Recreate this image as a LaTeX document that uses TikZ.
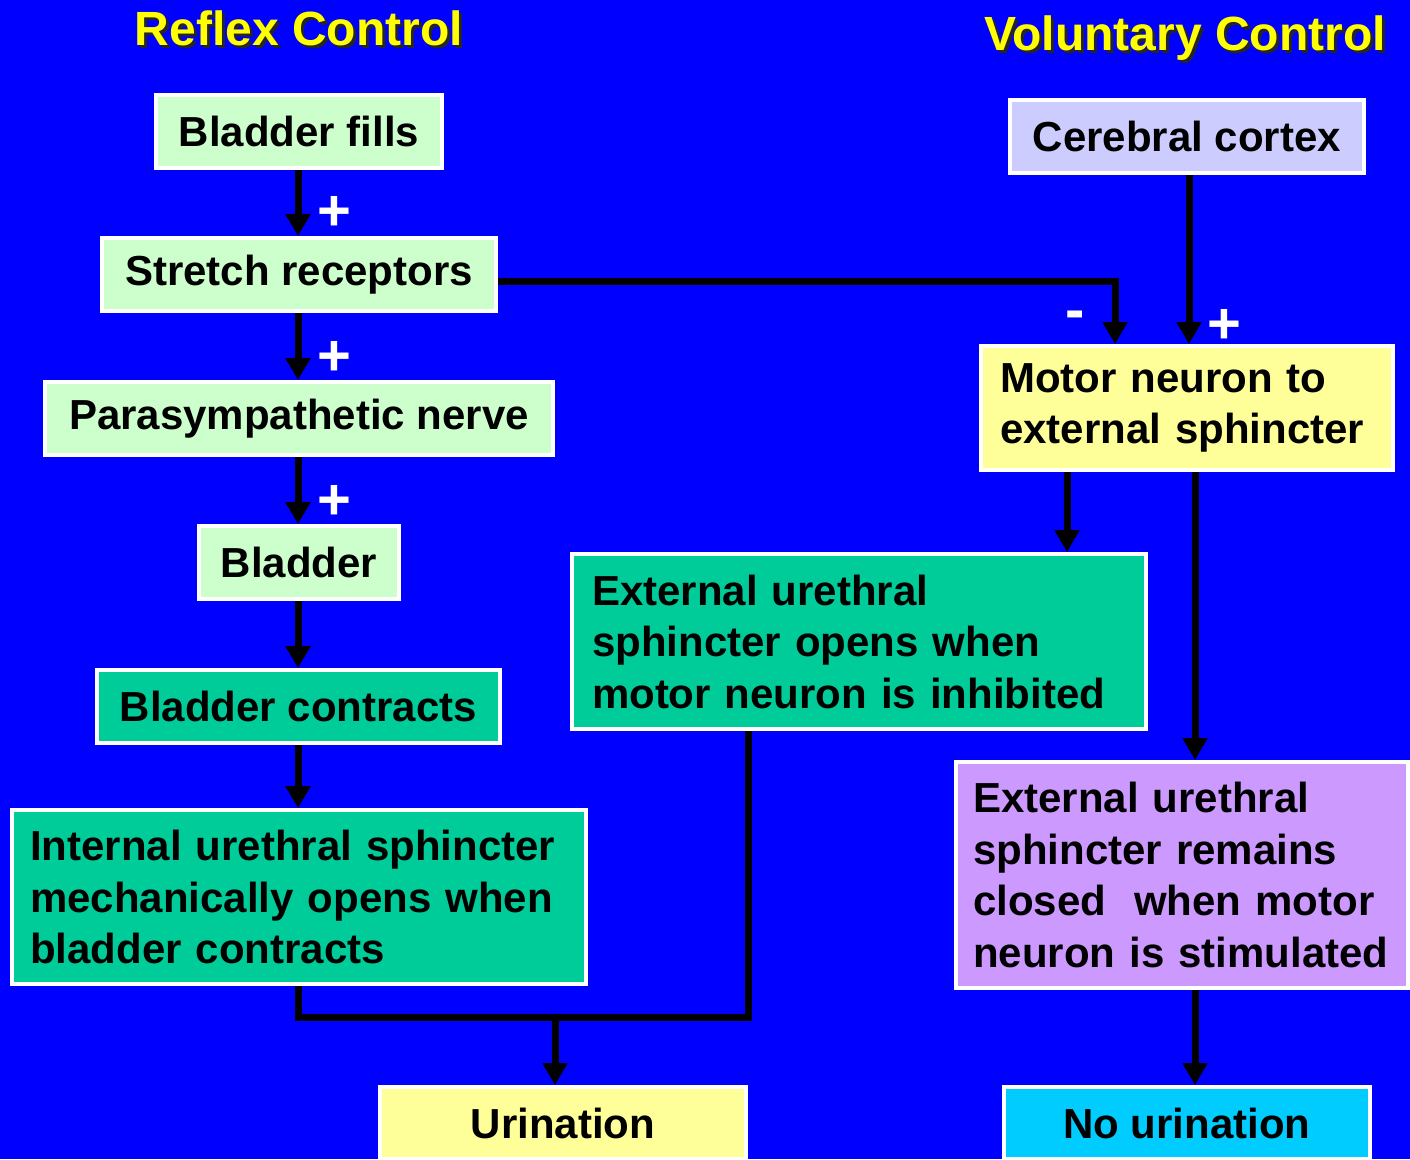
\documentclass[tikz,border=0pt]{standalone}
\usepackage{fontspec}
\setmainfont{Liberation Sans}
\usetikzlibrary{arrows.meta}
\definecolor{bgblue}{HTML}{0000FF}
\definecolor{lgreen}{HTML}{CCFFCC}
\definecolor{teal2}{HTML}{00CC99}
\definecolor{lyellow}{HTML}{FFFF99}
\definecolor{lavender2}{HTML}{CCCCFF}
\definecolor{lpurple}{HTML}{CC99FF}
\definecolor{lcyan}{HTML}{00CCFF}
\definecolor{titleyellow}{HTML}{FFFF00}
\hyphenpenalty=10000
\exhyphenpenalty=10000
\begin{document}
\begin{tikzpicture}[x=1pt,y=-1pt,
  box/.style={draw=white, line width=4pt, rectangle, inner sep=0pt,
    font=\fontsize{42}{51.5}\selectfont\bfseries, text=black},
  multibox/.style={box, align=left, inner xsep=#1},
  arr/.style={line width=7pt, draw=black, -{Triangle[length=22pt,width=24pt]}},
  conn/.style={line width=7pt, draw=black},
  sign/.style={text=white, font=\fontsize{58}{58}\selectfont\bfseries, inner sep=0pt},
  titletext/.style={text=titleyellow, font=\fontsize{48}{48}\selectfont\bfseries, inner sep=0pt, anchor=base},
  titleshadow/.style={text=black!85, font=\fontsize{48}{48}\selectfont\bfseries, inner sep=0pt, anchor=base}
]
\fill[bgblue] (0,0) rectangle (1410,1159);
\useasboundingbox (0,0) rectangle (1410,1159);

% titles
\node[titleshadow] (reflexsh) at (302,48) {Reflex Control};
\node[titletext] (reflex) at (299,45) {Reflex Control};
\node[titleshadow] (volsh) at (1188,53) {Voluntary Control};
\node[titletext] (vol) at (1185,50) {Voluntary Control};

% left column
\node[box, fill=lgreen, minimum width=286pt, minimum height=73pt] (fills) at (299,131.5) {Bladder fills};
\node[box, fill=lgreen, minimum width=394pt, minimum height=73pt] (stretch) at (299,274.5) {Stretch receptors};
\node[box, fill=lgreen, minimum width=508pt, minimum height=73pt] (para) at (299,418.5) {Parasympathetic nerve};
\node[box, fill=lgreen, minimum width=200pt, minimum height=73pt] (bladder) at (299,562.5) {Bladder};
\node[box, fill=teal2, minimum width=403pt, minimum height=73pt] (contracts) at (298.5,706.5) {Bladder contracts};
\node[multibox=18pt, fill=teal2, text width=538pt, minimum width=574pt, minimum height=174pt] (internal) at (299,897)
  {Internal urethral sphincter\\mechanically opens when\\bladder contracts};
\node[box, fill=lyellow, minimum width=366pt, minimum height=72pt] (urin) at (563,1123) {Urination};

% right column
\node[box, fill=lavender2, minimum width=354pt, minimum height=73pt] (cortex) at (1187,136.5) {Cerebral cortex};
\node[multibox=19pt, fill=lyellow, text width=374pt, minimum width=412pt, minimum height=124pt] (motor) at (1187,408)
  {Motor neuron to\\external sphincter};
\node[multibox=20pt, fill=teal2, text width=534pt, minimum width=574pt, minimum height=175pt] (opens) at (859,641.5)
  {External urethral\\sphincter opens when\\motor neuron is inhibited};
\node[multibox=17pt, fill=lpurple, text width=418pt, minimum width=452pt, minimum height=226pt] (remains) at (1182,875)
  {External urethral\\sphincter remains\\closed\ \ when motor\\neuron is stimulated};
\node[box, fill=lcyan, minimum width=366pt, minimum height=72pt] (nourin) at (1187,1123) {No urination};

% helper coordinates
\coordinate (y281) at (0,281);
\coordinate (y1017) at (0,1017);
\coordinate (x1115) at (1115,0);
\coordinate (x1189) at (1189,0);
\coordinate (x1067) at (1067,0);
\coordinate (x1195) at (1195,0);
\coordinate (x748) at (748,0);
\coordinate (x555) at (555,0);
\coordinate (x298) at (298,0);

% connectors
\draw[arr] (x298 |- fills.south) -- (x298 |- stretch.north);
\draw[arr] (x298 |- stretch.south) -- (x298 |- para.north);
\draw[arr] (x298 |- para.south) -- (x298 |- bladder.north);
\draw[arr] (x298 |- bladder.south) -- (x298 |- contracts.north);
\draw[arr] (x298 |- contracts.south) -- (x298 |- internal.north);
\draw[arr] (stretch.east |- y281) -| (x1115 |- motor.north);
\draw[arr] (x1189 |- cortex.south) -- (x1189 |- motor.north);
\draw[arr] (x1067 |- motor.south) -- (x1067 |- opens.north);
\draw[arr] (x1195 |- motor.south) -- (x1195 |- remains.north);
\draw[arr] (x1195 |- remains.south) -- (x1195 |- nourin.north);
\draw[conn] (x298 |- internal.south) |- (x748 |- y1017) -- (x748 |- opens.south);
\draw[arr] (x555 |- y1017) -- (x555 |- urin.north);

% signs
\node[sign] (p1) at (334,213) {+};
\node[sign] (p2) at (334,358) {+};
\node[sign] (p3) at (334,502) {+};
\node[sign] (p4) at (1224,326) {+};
\node[sign] (m1) at (1075,320) {-};
\end{tikzpicture}
\end{document}
